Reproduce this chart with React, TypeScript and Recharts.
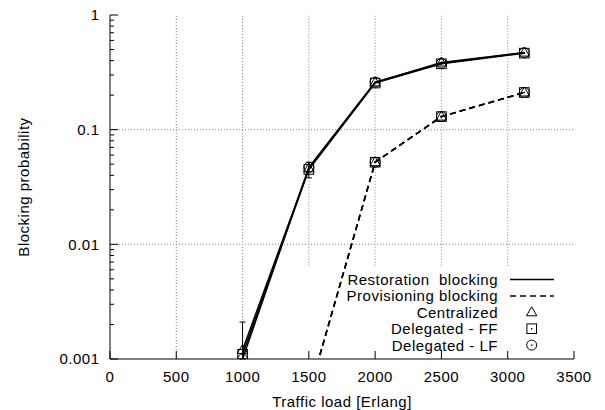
import React from 'react';
import { LineChart, Line, XAxis, YAxis, ReferenceLine, ErrorBar, Legend } from 'recharts';

// ---------- data ----------
const loads = [1000, 1500, 2000, 2500, 3125];
const restCentralized = [0.0012, 0.046, 0.258, 0.385, 0.47];
const restDelegatedFF = [0.0011, 0.045, 0.255, 0.375, 0.465];
const restDelegatedLF = [0.001, 0.047, 0.26, 0.38, 0.468];
const provCentralized = [null, 0.0005, 0.052, 0.13, 0.211];
const provDelegatedFF = [null, 0.0005, 0.052, 0.13, 0.211];
const provDelegatedLF = [null, 0.0005, 0.052, 0.13, 0.211];
const restCentralizedErr = [[0.0002, 0.0009], [0.008, 0.006], null, null, null];

const xTicks = [0, 500, 1000, 1500, 2000, 2500, 3000, 3500];
const yMajorTicks = [0.001, 0.01, 0.1, 1];
const yTickLabels = ['0.001', '0.01', '0.1', '1'];
const yMinorMultipliers = [2, 3, 4, 5, 6, 7, 8, 9];
const xGridFull = [500, 1000];
const xGridAboveKey = [1500, 2000, 2500, 3000];
const yGrid = [0.01, 0.1];
const keyTopValue = 0.0065;

const legendLabels = [
  'Restoration  blocking',
  'Provisioning blocking',
  'Centralized',
  'Delegated - FF',
  'Delegated - LF',
];

const data = loads.map((load, i) => ({
  load,
  rc: restCentralized[i],
  rf: restDelegatedFF[i],
  rl: restDelegatedLF[i],
  pc: provCentralized[i],
  pf: provDelegatedFF[i],
  pl: provDelegatedLF[i],
  rcErr: restCentralizedErr[i],
}));

const yAllTicks: number[] = [];
yMajorTicks.forEach((m, i) => {
  yAllTicks.push(m);
  if (i < yMajorTicks.length - 1) yMinorMultipliers.forEach((k) => yAllTicks.push(+(m * k).toPrecision(3)));
});

// ---------- styling ----------
const FONT = "'Liberation Sans', Arial, Helvetica, sans-serif";
const FS = 15;
const LS = 0.5;
const MAJOR = 8;
const MINOR = 4;

const majorLabel = (v: number) => {
  const idx = yMajorTicks.findIndex((m) => Math.abs(m - v) / m < 1e-6);
  return idx >= 0 ? yTickLabels[idx] : null;
};

const BottomTick = (props: any) => {
  const { x, y, payload } = props;
  return (
    <g>
      <line x1={x} x2={x} y1={y} y2={y - MAJOR} stroke="#000" strokeWidth={1} />
      <text x={x} y={y + 23} textAnchor="middle" fontFamily={FONT} fontSize={FS} letterSpacing={LS} fill="#000">
        {payload.value}
      </text>
    </g>
  );
};

const TopTick = (props: any) => {
  const { x, y } = props;
  return <line x1={x} x2={x} y1={y} y2={y + MAJOR} stroke="#000" strokeWidth={1} />;
};

const LeftTick = (props: any) => {
  const { x, y, payload } = props;
  const lbl = majorLabel(payload.value);
  const len = lbl ? MAJOR : MINOR;
  return (
    <g>
      <line x1={x} x2={x + len} y1={y} y2={y} stroke="#000" strokeWidth={1} />
      {lbl && (
        <text x={x - 10.5} y={y + 5.4} textAnchor="end" fontFamily={FONT} fontSize={FS} letterSpacing={LS} fill="#000">
          {lbl}
        </text>
      )}
    </g>
  );
};

const RightTick = (props: any) => {
  const { x, y, payload } = props;
  const len = majorLabel(payload.value) ? MAJOR : MINOR;
  return <line x1={x} x2={x - len} y1={y} y2={y} stroke="#000" strokeWidth={1} />;
};

// markers
const Triangle = ({ cx, cy }: { cx: number; cy: number }) => (
  <path d={`M${cx},${cy - 5.5} L${cx + 5.2},${cy + 3.5} L${cx - 5.2},${cy + 3.5} Z`} fill="none" stroke="#000" strokeWidth={1} />
);
const Square = ({ cx, cy }: { cx: number; cy: number }) => (
  <g>
    <rect x={cx - 4.8} y={cy - 4.8} width={9.6} height={9.6} fill="none" stroke="#000" strokeWidth={1} />
    <rect x={cx - 0.7} y={cy - 0.7} width={1.4} height={1.4} fill="#000" />
  </g>
);
const Circle = ({ cx, cy }: { cx: number; cy: number }) => (
  <g>
    <circle cx={cx} cy={cy} r={5} fill="none" stroke="#000" strokeWidth={1} />
    <circle cx={cx} cy={cy} r={0.8} fill="#000" />
  </g>
);

const makeDot = (Shape: any) => (props: any) => {
  const { cx, cy, value, index } = props;
  if (value == null || cx == null || cy == null || value < 0.001) return <g key={`d${index}`} />;
  return (
    <g key={`d${index}`}>
      <Shape cx={cx} cy={cy} />
    </g>
  );
};

const TriDot = makeDot(Triangle);
const SqDot = makeDot(Square);
const CirDot = makeDot(Circle);

const LegendBox = () => {
  const rowY = [11.5, 27.9, 44.3, 60.7, 77.1];
  const textX = 150;
  const s1 = 162;
  const s2 = 206;
  const mx = 183.7;
  return (
    <svg width={230} height={90} style={{ display: 'block', overflow: 'visible' }}>
      {legendLabels.map((l, i) => (
        <text
          key={l}
          x={textX}
          y={rowY[i] + 5.4}
          textAnchor="end"
          fontFamily={FONT}
          fontSize={FS}
          letterSpacing={LS}
          fill="#000"
          style={{ whiteSpace: 'pre' }}
        >
          {l}
        </text>
      ))}
      <line x1={s1} x2={s2} y1={rowY[0]} y2={rowY[0]} stroke="#000" strokeWidth={1.5} />
      <line x1={s1} x2={s2} y1={rowY[1]} y2={rowY[1]} stroke="#000" strokeWidth={1.5} strokeDasharray="6 4" />
      <Triangle cx={mx} cy={rowY[2]} />
      <Square cx={mx} cy={rowY[3]} />
      <Circle cx={mx} cy={rowY[4]} />
    </svg>
  );
};

export default function App() {
  return (
    <div style={{ width: 605, height: 410, marginTop: -8, marginLeft: -8 }}>
      <LineChart width={605} height={410} data={data} margin={{ top: 15, right: 31, bottom: 0, left: 0 }}>
        <XAxis
          dataKey="load"
          type="number"
          domain={[0, 3500]}
          ticks={xTicks}
          interval={0}
          allowDataOverflow
          height={51}
          tickSize={0}
          tickMargin={0}
          tickLine={false}
          axisLine={{ stroke: '#000', strokeWidth: 1 }}
          tick={<BottomTick />}
          label={(p: any) => {
            const vb = p.viewBox || { x: 110, y: 359, width: 464, height: 51 };
            return (
              <text x={vb.x + vb.width / 2} y={vb.y + 48} textAnchor="middle" fontFamily={FONT} fontSize={FS} letterSpacing={LS} fill="#000">
                Traffic load [Erlang]
              </text>
            );
          }}
        />
        <XAxis
          xAxisId="top"
          orientation="top"
          type="number"
          domain={[0, 3500]}
          ticks={xTicks}
          interval={0}
          allowDataOverflow
          height={0}
          tickSize={0}
          tickMargin={0}
          tickLine={false}
          axisLine={{ stroke: '#000', strokeWidth: 1 }}
          tick={<TopTick />}
        />
        <YAxis
          type="number"
          scale="log"
          domain={[0.001, 1]}
          allowDataOverflow
          ticks={yAllTicks}
          interval={0}
          width={110}
          tickSize={0}
          tickMargin={0}
          tickLine={false}
          axisLine={{ stroke: '#000', strokeWidth: 1 }}
          tick={<LeftTick />}
          label={(p: any) => {
            const vb = p.viewBox || { x: 0, y: 15, width: 110, height: 344 };
            const cx = vb.x + 23;
            const cy = vb.y + vb.height / 2;
            return (
              <text
                x={cx}
                y={cy}
                transform={`rotate(-90 ${cx} ${cy})`}
                textAnchor="middle"
                dominantBaseline="central"
                fontFamily={FONT}
                fontSize={FS}
                letterSpacing={LS}
                fill="#000"
              >
                Blocking probability
              </text>
            );
          }}
        />
        <YAxis
          yAxisId="right"
          orientation="right"
          type="number"
          scale="log"
          domain={[0.001, 1]}
          allowDataOverflow
          ticks={yAllTicks}
          interval={0}
          width={0}
          tickSize={0}
          tickMargin={0}
          tickLine={false}
          axisLine={{ stroke: '#000', strokeWidth: 1 }}
          tick={<RightTick />}
        />

        {xGridFull.map((v) => (
          <ReferenceLine key={`gx${v}`} x={v} stroke="#888" strokeWidth={1} strokeDasharray="1 2" ifOverflow="hidden" />
        ))}
        {xGridAboveKey.map((v) => (
          <ReferenceLine
            key={`gk${v}`}
            segment={[{ x: v, y: keyTopValue }, { x: v, y: 1 }]}
            stroke="#888"
            strokeWidth={1}
            strokeDasharray="1 2"
          />
        ))}
        {yGrid.map((v) => (
          <ReferenceLine key={`gy${v}`} y={v} stroke="#888" strokeWidth={1} strokeDasharray="1 2" />
        ))}

        <Line dataKey="rc" stroke="#000" strokeWidth={1.5} dot={TriDot} isAnimationActive={false}>
          <ErrorBar dataKey="rcErr" width={3} stroke="#000" strokeWidth={1} direction="y" />
        </Line>
        <Line dataKey="rf" stroke="#000" strokeWidth={1.5} dot={SqDot} isAnimationActive={false} />
        <Line dataKey="rl" stroke="#000" strokeWidth={1.5} dot={CirDot} isAnimationActive={false} />
        <Line dataKey="pc" stroke="#000" strokeWidth={1.5} strokeDasharray="6 4" dot={TriDot} isAnimationActive={false} />
        <Line dataKey="pf" stroke="#000" strokeWidth={1.5} strokeDasharray="6 4" dot={SqDot} isAnimationActive={false} />
        <Line dataKey="pl" stroke="#000" strokeWidth={1.5} strokeDasharray="6 4" dot={CirDot} isAnimationActive={false} />

        <Legend
          layout="vertical"
          align="center"
          verticalAlign="middle"
          wrapperStyle={{ left: 348, top: 268, width: 230, height: 90 }}
          content={() => <LegendBox />}
        />
      </LineChart>
    </div>
  );
}
